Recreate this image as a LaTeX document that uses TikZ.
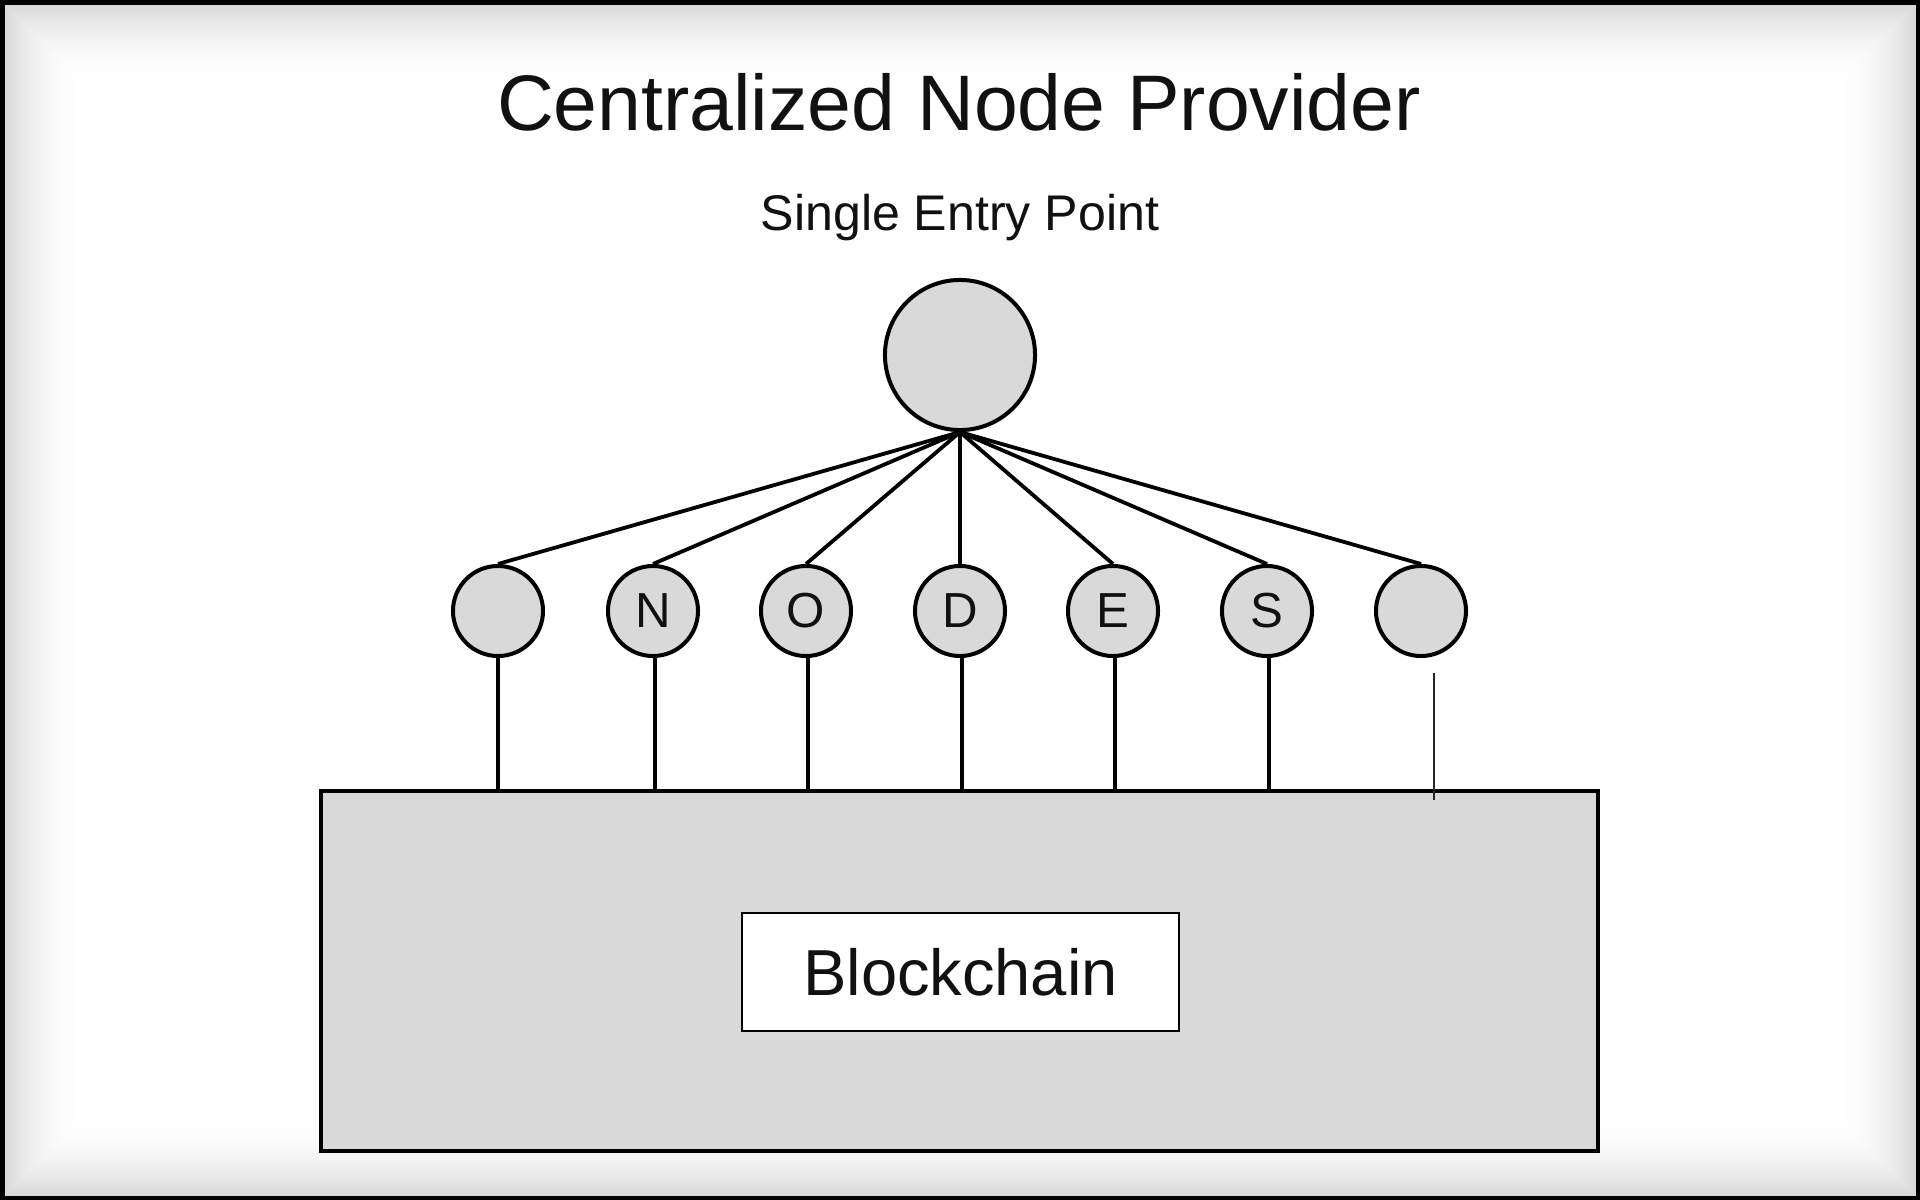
\documentclass[tikz,border=0pt]{standalone}
\usepackage{fontspec}
\setmainfont{Liberation Sans}
\definecolor{nodegray}{RGB}{217,217,217}
\definecolor{inkcol}{RGB}{17,17,17}
\tikzset{
  hubcircle/.style={circle, draw=black, fill=nodegray, line width=0.04cm, minimum size=1.50cm, inner sep=0pt},
  peer/.style={circle, draw=black, fill=nodegray, line width=0.04cm, minimum size=0.90cm, inner sep=0pt,
     font=\fontsize{14}{16}\selectfont, text=inkcol},
  link/.style={draw=black, line width=0.038cm},
  thinlink/.style={draw=black!85, line width=0.02cm},
  chainbox/.style={draw=black, fill=nodegray, line width=0.038cm, minimum width=12.77cm, minimum height=3.60cm, inner sep=0pt},
  labelbox/.style={draw=black, fill=white, line width=0.02cm, minimum width=4.37cm, minimum height=1.18cm, inner sep=0pt,
     font=\fontsize{18.5}{22}\selectfont, text=inkcol},
}
\begin{document}
\begin{tikzpicture}[x=0.01cm,y=-0.01cm]
\useasboundingbox (0,0) rectangle (1920,1200);
\fill[white] (0,0) rectangle (1920,1200);
% soft inner shadow
\foreach \i in {0,...,39}{
  \pgfmathsetmacro{\s}{15*(1-\i/40)^2}
  \pgfmathsetmacro{\d}{5+2*\i}
  \draw[black!\s, line width=0.021cm] (\d,\d) rectangle (1920-\d,1200-\d);
}
\draw[black, line width=0.05cm] (2,2) rectangle (1918,1198);

% texts
\node[text=inkcol, font=\fontsize{22.4}{26}\selectfont] (title) at (959,102) {Centralized Node Provider};
\node[text=inkcol, font=\fontsize{14.25}{17}\selectfont] (entry) at (960,218) {Single Entry Point};

% hub
\node[hubcircle] (hub) at (960,355) {};

% peers
\node[peer] (p1) at (498,611) {};
\node[peer] (p2) at (653,611) {N};
\node[peer] (p3) at (806,611) {O};
\node[peer] (p4) at (960,611) {D};
\node[peer] (p5) at (1113,611) {E};
\node[peer] (p6) at (1267,611) {S};
\node[peer] (p7) at (1421,611) {};

% blockchain
\node[chainbox] (chain) at (959.5,971) {};
\node[labelbox] (bc) at (960.5,972) {Blockchain};

% hub links
\foreach \p in {p1,p2,p3,p4,p5,p6,p7}{
  \draw[link] (hub.south) -- (\p.north);
}
% drops to chain
\foreach \p/\dx in {p1/0,p2/2,p3/2,p4/2,p5/2,p6/2}{
  \draw[link] ([xshift=\dx*0.01cm]\p.south) -- ([xshift=\dx*0.01cm]\p.south |- chain.north);
}
\coordinate (t7a) at (1434,673);
\coordinate (t7b) at (1434,800);
\draw[thinlink] (t7a) -- (t7b);
\end{tikzpicture}
\end{document}
